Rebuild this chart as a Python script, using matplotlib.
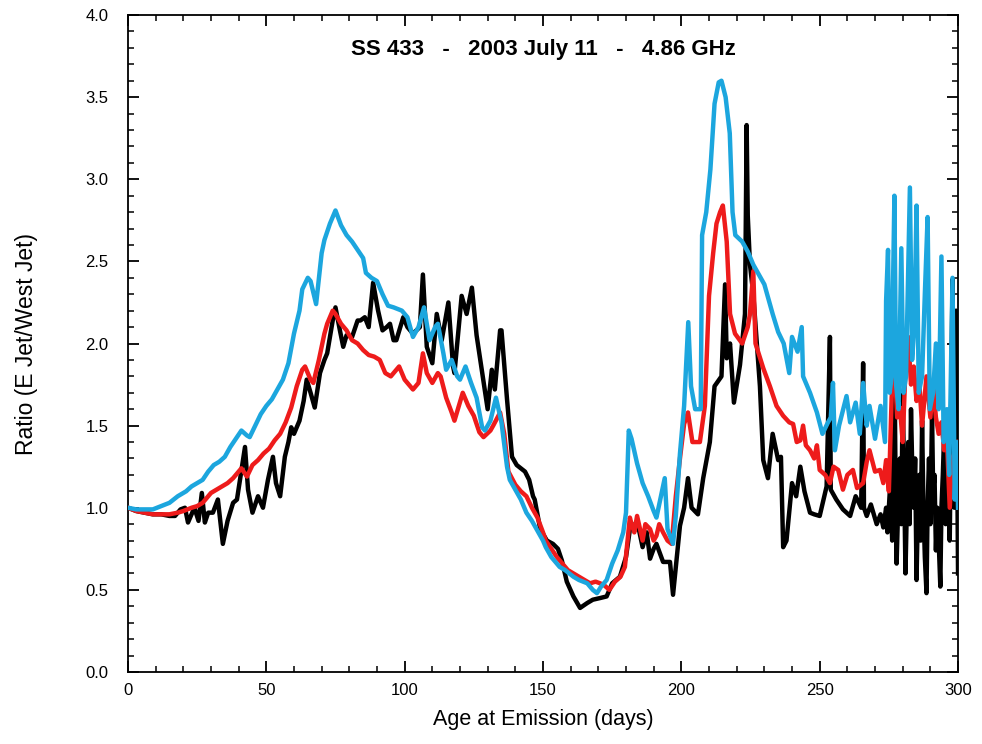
"""SS 433 jet brightness ratio vs age at emission (2003 July 11, 4.86 GHz)."""

import matplotlib

matplotlib.use("Agg")
import matplotlib.pyplot as plt
from matplotlib.ticker import MultipleLocator, FormatStrFormatter

# ---- data -------------------------------------------------------------------
black_days = [
    0, 3, 6, 9, 12, 15, 17, 19, 20.6, 21.7, 23, 24, 25.5, 26.7, 27.8, 29, 30.7,
    32.5, 34.3, 36, 38, 39.4, 40.5, 42.3, 43.4, 45, 47, 48.8, 50.6, 52.4, 53.5,
    55, 56.7, 58, 59, 60, 62, 63.5, 64.6, 66, 67.5, 69.4, 71, 72, 74, 75, 76.6,
    77.8, 79, 81, 83, 84, 85.6, 87, 88.6, 90.4, 92, 93.5, 94.7, 96, 97, 99.5,
    101, 103, 105.5, 106.6, 108, 110, 111.6, 113.4, 115.8, 117.5, 118, 120.6,
    122.4, 124.3, 126, 128.4, 130, 131.5, 132.6, 134.5, 135, 137, 138.8, 140.5,
    142, 143.5, 145, 146.4, 147, 149, 151.4, 153.6, 155.4, 156.8, 158.6, 161,
    163.4, 166, 168, 170.6, 173, 175, 177.8, 180, 181.5, 182.5, 184, 186, 187.5,
    188.7, 190, 191, 193.4, 195.9, 197, 199.5, 201, 202.4, 203.7, 206, 207.9,
    210.3, 212, 214.5, 215.8, 216.4, 217.6, 219, 221.2, 223, 223.6, 224, 224.8,
    226, 228.4, 229.6, 231.3, 233, 235, 236, 236.8, 238, 240, 241.5, 243,
    244.5, 246.5, 248, 250, 252.5, 253.7, 254, 256, 258.4, 261, 263, 265,
    265.7, 266, 267, 268.5, 270.6, 272, 273, 274, 274.5, 275.5, 276.2, 277,
    277.5, 277.8, 278.5, 279, 279.5, 280, 280.5, 281, 281.5, 282, 282.5, 283,
    283.5, 284, 284.5, 285, 285.5, 286, 286.5, 287, 287.5, 288, 288.6, 289,
    289.5, 290, 290.6, 291, 291.5, 292, 292.5, 293, 293.6, 294, 294.5, 295,
    295.5, 296, 296.5, 297, 298, 298.7, 299.3, 300,
]
black_ratio = [
    1.00, 0.98, 0.97, 0.96, 0.96, 0.95, 0.95, 0.99, 1.00, 0.91, 0.96, 1.00,
    0.92, 1.09, 0.91, 0.97, 0.97, 1.05, 0.78, 0.92, 1.03, 1.05, 1.17, 1.37,
    1.11, 0.97, 1.07, 1.00, 1.17, 1.31, 1.15, 1.07, 1.31, 1.40, 1.49, 1.45,
    1.53, 1.65, 1.78, 1.70, 1.61, 1.82, 1.90, 1.94, 2.14, 2.22, 2.08, 1.98,
    2.05, 2.04, 2.14, 2.14, 2.16, 2.10, 2.37, 2.20, 2.08, 2.10, 2.12, 2.02,
    2.02, 2.16, 2.10, 2.06, 2.10, 2.42, 1.98, 1.88, 2.18, 2.02, 2.25, 1.86,
    1.82, 2.29, 2.18, 2.34, 2.05, 1.78, 1.60, 1.84, 1.72, 2.08, 2.08, 1.66,
    1.31, 1.26, 1.24, 1.22, 1.17, 1.07, 1.05, 0.87, 0.80, 0.78, 0.75, 0.68,
    0.55, 0.46, 0.39, 0.42, 0.44, 0.45, 0.46, 0.54, 0.58, 0.70, 0.88, 0.88,
    0.92, 0.76, 0.85, 0.69, 0.75, 0.78, 0.67, 0.67, 0.47, 0.89, 1.00, 1.18,
    1.00, 0.96, 1.18, 1.40, 1.74, 1.80, 2.36, 1.91, 2.00, 1.64, 1.87, 2.18,
    3.33, 2.78, 2.48, 2.30, 1.74, 1.29, 1.18, 1.45, 1.29, 1.31, 0.76, 0.80,
    1.15, 1.07, 1.25, 1.10, 0.97, 0.96, 0.95, 1.13, 2.04, 1.11, 1.05, 0.99,
    0.95, 1.07, 1.00, 1.88, 1.00, 0.95, 1.02, 0.90, 0.96, 0.88, 1.00, 0.85,
    1.15, 0.80, 1.96, 1.00, 0.66, 1.10, 1.30, 0.90, 1.70, 1.20, 0.60, 1.00,
    1.40, 0.90, 1.60, 1.20, 1.00, 1.30, 0.56, 1.00, 1.20, 0.80, 1.53, 1.00,
    0.70, 0.48, 1.00, 1.30, 0.90, 1.58, 1.10, 1.20, 0.74, 1.00, 0.80, 0.52,
    1.00, 1.20, 1.46, 0.90, 1.20, 1.03, 0.80, 2.39, 1.00, 2.20, 0.60,
]

red_days = [
    0, 3, 6, 9, 12, 15, 18, 20, 23, 25, 27, 30, 32, 34, 36, 38, 40, 41, 43, 45,
    47, 49, 51, 53, 55, 57, 59, 61, 63, 64, 66, 67, 69, 71, 72, 74, 75, 77, 79,
    81, 83, 85, 87, 89, 91, 93, 95, 97, 98, 100, 102, 103, 105, 106.6, 108, 110,
    112, 113, 115, 117, 118, 121, 123, 125, 127, 128.5, 131, 132, 134.5, 136,
    137.5, 140, 142, 144, 146, 148, 150, 151, 153, 155, 157, 159, 161, 163, 165,
    167, 169, 170.6, 172, 174, 176, 178, 179.6, 181.4, 182, 183, 184, 186, 187,
    188.7, 190, 191, 192, 193.4, 195, 196.5, 198, 199.5, 201, 202.4, 204, 206.7,
    208.5, 210, 211.5, 212.7, 214, 215, 216.4, 217.6, 219.4, 222, 224, 224.8,
    226, 226.8, 229.6, 232, 234.4, 236.8, 239, 240.4, 241.7, 243, 244, 245,
    246.5, 248, 249, 250, 252, 253.7, 255, 256.7, 258.4, 260, 262, 263.5, 265.7,
    267, 268, 270, 271.8, 273, 274, 275, 276, 277, 278, 279, 280, 281, 282, 283,
    284, 285, 286, 287, 288.6, 290, 291, 292, 293, 294, 295, 296, 297, 298, 299,
    300,
]
red_ratio = [
    1.00, 0.98, 0.97, 0.96, 0.96, 0.96, 0.97, 0.98, 1.00, 1.01, 1.03, 1.09,
    1.11, 1.13, 1.15, 1.18, 1.22, 1.24, 1.19, 1.26, 1.29, 1.33, 1.36, 1.41,
    1.45, 1.52, 1.61, 1.74, 1.84, 1.86, 1.78, 1.76, 1.90, 2.06, 2.12, 2.20,
    2.18, 2.12, 2.08, 2.02, 2.00, 1.96, 1.93, 1.92, 1.90, 1.82, 1.80, 1.84,
    1.86, 1.78, 1.74, 1.72, 1.76, 1.94, 1.82, 1.76, 1.82, 1.80, 1.67, 1.58,
    1.53, 1.70, 1.62, 1.56, 1.46, 1.43, 1.47, 1.50, 1.58, 1.45, 1.22, 1.14,
    1.10, 1.07, 1.00, 0.94, 0.85, 0.80, 0.75, 0.70, 0.66, 0.62, 0.60, 0.58,
    0.56, 0.54, 0.55, 0.54, 0.53, 0.50, 0.55, 0.58, 0.64, 0.94, 0.90, 0.85,
    0.95, 0.80, 0.90, 0.87, 0.80, 0.83, 0.90, 0.85, 0.80, 0.78, 1.07, 1.30,
    1.51, 1.58, 1.40, 1.40, 1.62, 2.29, 2.55, 2.73, 2.80, 2.84, 2.62, 2.18,
    2.06, 2.00, 2.10, 2.18, 2.44, 2.00, 1.85, 1.74, 1.62, 1.56, 1.52, 1.51,
    1.40, 1.41, 1.50, 1.38, 1.35, 1.30, 1.38, 1.23, 1.20, 1.15, 1.25, 1.23,
    1.11, 1.20, 1.23, 1.12, 1.15, 1.28, 1.35, 1.22, 1.23, 1.15, 1.29, 1.10,
    1.67, 1.92, 1.55, 1.61, 1.40, 1.85, 2.04, 1.75, 1.86, 1.65, 1.76, 1.50,
    1.80, 1.55, 1.76, 1.55, 1.45, 1.52, 1.35, 1.41, 1.00, 1.30, 1.35, 1.40,
]

cyan_days = [
    0, 3, 6, 9, 12, 15, 18, 21, 23, 25, 27, 29, 31, 33, 35, 37, 39, 41, 43, 44,
    46, 48, 50, 52, 54, 56, 58, 60, 62, 63, 65, 66, 68, 70, 71, 73, 75, 77, 79,
    81, 83, 85, 86, 88, 90, 92, 94, 96, 99, 101, 103, 105, 107, 109, 111, 112,
    114, 115, 117, 119, 120, 122, 124, 126, 128, 129, 131, 133, 135, 137, 138,
    140, 142, 144, 146, 148, 150, 151, 153, 156, 158, 161, 163, 166, 168, 169.5,
    171, 173, 175, 177, 179, 180, 181, 182, 184, 186, 188, 190, 191, 193, 194,
    195, 197, 198, 199.5, 201, 202.5, 203.5, 205, 207, 207.5, 209, 210.5, 212,
    213.5, 214.5, 216, 217.5, 218.5, 219.5, 222, 224, 226, 228, 230, 233, 235,
    237, 239, 240, 242, 243.5, 244, 246.5, 249, 251, 253, 254, 254.8, 255.5,
    257, 259.7, 261, 263, 264.5, 265.7, 267, 268, 270, 272, 273.6, 274, 274.7,
    275.3, 276, 277, 277.6, 278.5, 279.5, 280.3, 281.2, 282.6, 283.4, 284.2,
    285, 285.8, 287, 288, 289, 289.8, 291, 292, 293, 294, 294.8, 296, 296.8,
    298, 298.8, 299.5, 300,
]
cyan_ratio = [
    1.00, 0.99, 0.99, 0.99, 1.01, 1.03, 1.07, 1.10, 1.13, 1.15, 1.17, 1.22,
    1.26, 1.28, 1.31, 1.37, 1.42, 1.47, 1.44, 1.43, 1.50, 1.57, 1.62, 1.66,
    1.72, 1.78, 1.88, 2.06, 2.20, 2.33, 2.40, 2.38, 2.24, 2.55, 2.63, 2.73,
    2.81, 2.72, 2.66, 2.62, 2.57, 2.52, 2.43, 2.40, 2.38, 2.30, 2.23, 2.22,
    2.20, 2.16, 2.04, 2.10, 2.22, 2.02, 2.10, 2.12, 1.94, 1.84, 1.90, 1.80,
    1.78, 1.86, 1.76, 1.67, 1.49, 1.47, 1.53, 1.67, 1.52, 1.25, 1.17, 1.11,
    1.05, 0.97, 0.92, 0.86, 0.80, 0.76, 0.70, 0.64, 0.62, 0.58, 0.56, 0.54,
    0.50, 0.48, 0.52, 0.56, 0.66, 0.74, 0.85, 0.97, 1.47, 1.42, 1.27, 1.15,
    1.07, 0.98, 0.94, 1.10, 1.18, 0.87, 0.78, 0.95, 1.33, 1.62, 2.13, 1.74,
    1.60, 1.60, 2.66, 2.80, 3.06, 3.46, 3.59, 3.60, 3.50, 3.28, 2.80, 2.66,
    2.62, 2.56, 2.48, 2.42, 2.36, 2.18, 2.07, 2.00, 1.82, 2.04, 1.95, 2.10,
    1.80, 1.70, 1.58, 1.45, 1.52, 1.55, 1.76, 1.35, 1.50, 1.68, 1.52, 1.64,
    1.45, 1.76, 1.50, 1.62, 1.42, 1.62, 1.40, 2.26, 2.57, 1.70, 1.80, 2.90,
    1.75, 1.60, 2.58, 1.70, 1.80, 2.95, 1.90, 2.10, 2.84, 1.70, 1.80, 2.30,
    2.77, 1.60, 1.70, 2.00, 1.60, 2.53, 1.40, 1.60, 1.20, 2.40, 1.05, 1.40,
    1.00,
]

# ---- figure -----------------------------------------------------------------
plt.rcParams.update({
    "font.family": ["Liberation Sans", "DejaVu Sans"],
    "font.size": 12,
    "axes.linewidth": 1.3,
})

fig = plt.figure(figsize=(9.82, 7.44), dpi=100)
ax = fig.add_axes([0.1303, 0.0968, 0.8453, 0.883])

lw = 3.2
ax.plot(black_days, black_ratio, color="black", lw=lw, zorder=2)
ax.plot(red_days, red_ratio, color="#ee1b1b", lw=lw, zorder=3)
ax.plot(cyan_days, cyan_ratio, color="#1ca6de", lw=lw, zorder=4)

ax.set_xlim(0, 300)
ax.set_ylim(0.0, 4.0)
ax.xaxis.set_major_locator(MultipleLocator(50))
ax.xaxis.set_minor_locator(MultipleLocator(10))
ax.yaxis.set_major_locator(MultipleLocator(0.5))
ax.yaxis.set_minor_locator(MultipleLocator(0.1))
ax.yaxis.set_major_formatter(FormatStrFormatter("%.1f"))
ax.tick_params(which="both", direction="in", top=True, right=True,
               labelsize=12, color="black")
ax.tick_params(which="major", length=8, width=1.3)
ax.tick_params(axis="y", which="major", pad=14)
ax.tick_params(axis="x", which="major", pad=8)
ax.tick_params(which="minor", length=4, width=1.1)

ax.set_xlabel("Age at Emission (days)", fontsize=15.5, labelpad=8)
ax.set_ylabel("Ratio (E Jet/West Jet)", fontsize=16.5, labelpad=34)
ax.text(0.5, 0.948, "SS 433   -   2003 July 11   -   4.86 GHz",
        transform=ax.transAxes, ha="center", va="center",
        fontsize=16, fontweight="bold")

fig.savefig("out.png", dpi=100)
